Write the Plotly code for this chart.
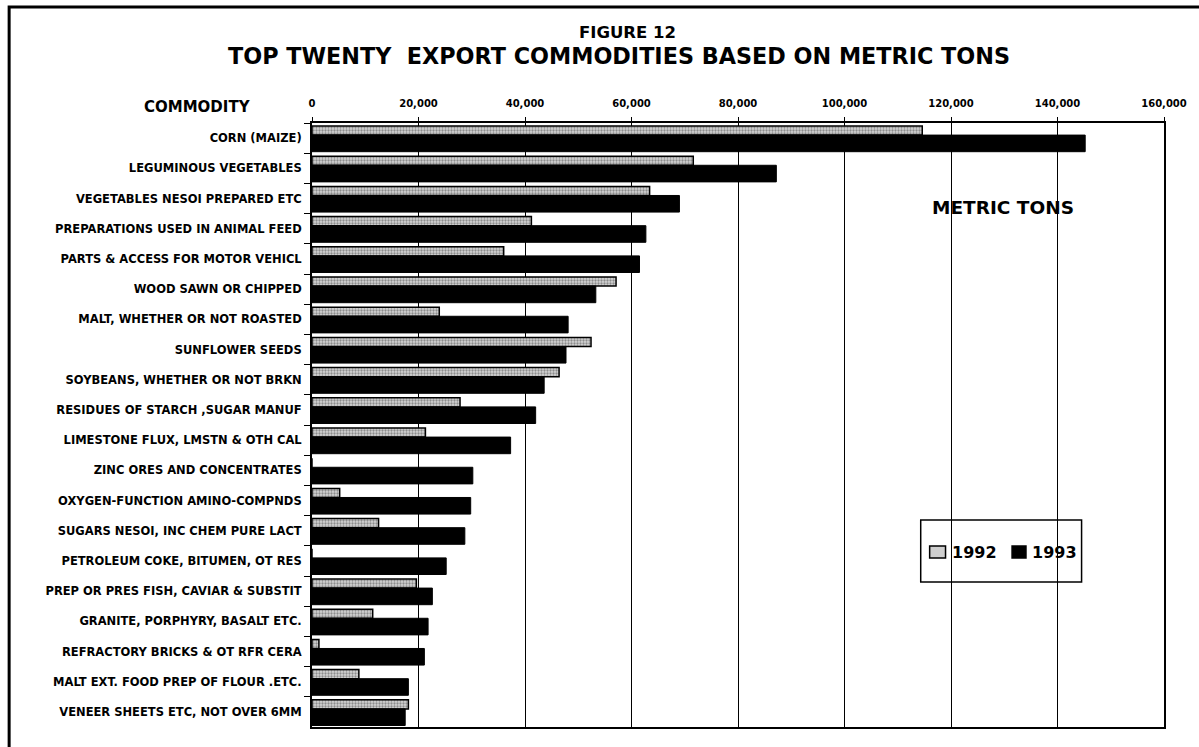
import plotly.graph_objects as go

commodities = [
    "CORN (MAIZE)",
    "LEGUMINOUS VEGETABLES",
    "VEGETABLES NESOI PREPARED ETC",
    "PREPARATIONS USED IN ANIMAL FEED",
    "PARTS & ACCESS FOR MOTOR VEHICL",
    "WOOD SAWN OR CHIPPED",
    "MALT, WHETHER OR NOT ROASTED",
    "SUNFLOWER SEEDS",
    "SOYBEANS, WHETHER OR NOT BRKN",
    "RESIDUES OF STARCH ,SUGAR MANUF",
    "LIMESTONE FLUX, LMSTN & OTH CAL",
    "ZINC ORES AND CONCENTRATES",
    "OXYGEN-FUNCTION AMINO-COMPNDS",
    "SUGARS NESOI, INC CHEM PURE LACT",
    "PETROLEUM COKE, BITUMEN, OT RES",
    "PREP OR PRES FISH, CAVIAR & SUBSTIT",
    "GRANITE, PORPHYRY, BASALT ETC.",
    "REFRACTORY BRICKS & OT RFR CERA",
    "MALT EXT. FOOD PREP OF FLOUR .ETC.",
    "VENEER SHEETS ETC, NOT OVER 6MM",
]

tons_1992 = [114600, 71600, 63400, 41200, 36000, 57100, 23900, 52400, 46400, 27800,
             21300, 0, 5200, 12500, 0, 19600, 11400, 1300, 8800, 18100]
tons_1993 = [145200, 87200, 69000, 62700, 61500, 53300, 48100, 47700, 43600, 42000,
             37300, 30200, 29800, 28700, 25200, 22600, 21800, 21100, 18100, 17500]

x_ticks = [0, 20000, 40000, 60000, 80000, 100000, 120000, 140000, 160000]
series_names = ["1992", "1993"]

FONT = "DejaVu Sans"
GRAY = "#cfcfcf"

W, H = 1199, 747
L, R, T, B = 312, 1170, 123, 727
PW, PH = R - L, B - T


def px(x):
    return (x - L) / PW


def py(y):
    return (B - y) / PH


fig = go.Figure()
fig.add_trace(go.Bar(
    name=series_names[0], orientation="h", y=commodities, x=tons_1992,
    offset=-0.4, width=0.3, showlegend=False,
    marker=dict(color=GRAY,
                pattern=dict(shape=".", fgcolor="#444444", bgcolor="#d4d4d4",
                             size=3, solidity=0.45),
                line=dict(color="black", width=1.5)),
))
fig.add_trace(go.Bar(
    name=series_names[1], orientation="h", y=commodities, x=tons_1993,
    offset=-0.1, width=0.55, showlegend=False,
    marker=dict(color="black", line=dict(color="black", width=1)),
))

annotations = [
    dict(text="FIGURE 12", x=px(630), y=py(32), xref="paper", yref="paper",
         showarrow=False, xanchor="center", yanchor="middle",
         font=dict(family=FONT, size=16.5, weight="bold", color="black")),
    dict(text="TOP TWENTY\u00a0\u00a0EXPORT COMMODITIES BASED ON METRIC TONS",
         x=px(621), y=py(56), xref="paper", yref="paper",
         showarrow=False, xanchor="center", yanchor="middle",
         font=dict(family=FONT, size=22.3, weight="bold", color="black")),
    dict(text="COMMODITY", x=px(197), y=py(107), xref="paper", yref="paper",
         showarrow=False, xanchor="center", yanchor="middle",
         font=dict(family=FONT, size=15, weight="bold", color="black")),
    dict(text="METRIC TONS", x=px(1008), y=py(207), xref="paper", yref="paper",
         showarrow=False, xanchor="center", yanchor="middle",
         font=dict(family=FONT, size=18.5, weight="bold", color="black")),
    # legend texts
    dict(text=series_names[0], x=px(954), y=py(552), xref="paper", yref="paper",
         showarrow=False, xanchor="left", yanchor="middle",
         font=dict(family=FONT, size=16, weight="bold", color="black")),
    dict(text=series_names[1], x=px(1035), y=py(552), xref="paper", yref="paper",
         showarrow=False, xanchor="left", yanchor="middle",
         font=dict(family=FONT, size=16, weight="bold", color="black")),
]

shapes = [
    # outer frame (right and bottom edges fall outside the page)
    dict(type="rect", xref="paper", yref="paper",
         x0=px(7), x1=px(1215), y0=py(7), y1=py(765),
         line=dict(color="black", width=3), fillcolor="rgba(0,0,0,0)", layer="above"),
    # legend box
    dict(type="rect", xref="paper", yref="paper",
         x0=px(925), x1=px(1087), y0=py(520), y1=py(582),
         line=dict(color="black", width=1.5), fillcolor="white", layer="below"),
    # legend keys
    dict(type="rect", xref="paper", yref="paper",
         x0=px(934), x1=px(950), y0=py(546), y1=py(558),
         line=dict(color="black", width=1.5), fillcolor=GRAY, layer="above"),
    dict(type="rect", xref="paper", yref="paper",
         x0=px(1017), x1=px(1031), y0=py(546), y1=py(558),
         line=dict(color="black", width=1.5), fillcolor="black", layer="above"),
]

fig.update_layout(
    width=W, height=H,
    margin=dict(l=L, r=W - R, t=T, b=H - B, pad=0),
    paper_bgcolor="white", plot_bgcolor="white",
    barmode="overlay",
    font=dict(family=FONT, color="black"),
    showlegend=False,
    xaxis=dict(side="top", range=[0, 160000], tickvals=x_ticks, tickformat=",",
               ticks="outside", ticklen=4, tickcolor="black", ticklabelstandoff=6,
               tickfont=dict(family=FONT, size=10, weight="bold", color="black"),
               showgrid=True, gridcolor="black", gridwidth=1,
               showline=True, linecolor="black", linewidth=2, mirror=True,
               zeroline=False),
    yaxis=dict(type="category", categoryorder="array", categoryarray=commodities,
               autorange="reversed", ticks="outside", tickson="boundaries",
               ticklen=6, tickcolor="black", ticklabelstandoff=6,
               tickfont=dict(family=FONT, size=11.5, weight="bold", color="black"),
               showgrid=False, showline=True, linecolor="black", linewidth=2,
               mirror=True, zeroline=False),
    annotations=annotations,
    shapes=shapes,
)

fig.write_html("out.html", config={"displayModeBar": False})

# remove the browser's default page margin so the figure sits at (0, 0)
with open("out.html", "r", encoding="utf-8") as f:
    html = f.read()
html = html.replace("<body>", '<body style="margin:0;padding:0;overflow:hidden;">', 1)
with open("out.html", "w", encoding="utf-8") as f:
    f.write(html)
